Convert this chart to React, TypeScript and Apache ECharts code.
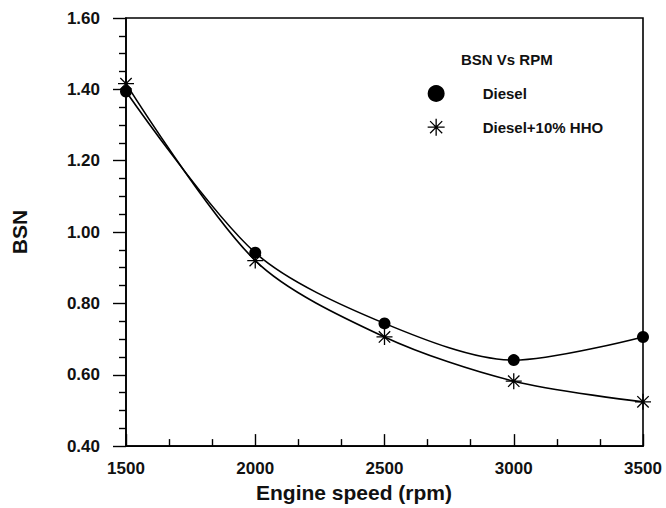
import React, { useEffect, useRef } from "react";
import * as echarts from "echarts";

const rpm = [1500, 2000, 2500, 3000, 3500];
const dieselBSN = [1.394, 0.942, 0.744, 0.641, 0.706];
const hhoBSN = [1.416, 0.92, 0.706, 0.582, 0.524];
const seriesNames = ["Diesel", "Diesel+10% HHO"];
const legendTitle = "BSN Vs RPM";
const xTitle = "Engine speed (rpm)";
const yTitle = "BSN";

const ASTERISK = "path://M0,8L16,8M8,0L8,16M2.3,2.3L13.7,13.7M2.3,13.7L13.7,2.3";
const FONT = "'Liberation Sans', Arial, sans-serif";

export default function App() {
  const ref = useRef<HTMLDivElement>(null);
  useEffect(() => {
    if (!ref.current) return;
    const chart = echarts.init(ref.current, null, { renderer: "svg" });
    const axisLabel = { color: "#111", fontSize: 17, fontWeight: "bold" as const, fontFamily: FONT };
    chart.setOption({
      animation: false,
      backgroundColor: "#fff",
      textStyle: { fontFamily: FONT },
      title: {
        text: legendTitle,
        left: 456,
        top: 47,
        textStyle: { fontSize: 15, fontWeight: "bold", color: "#111", fontFamily: FONT },
      },
      legend: {
        orient: "vertical",
        left: 422,
        top: 80,
        itemWidth: 17,
        itemHeight: 17,
        itemGap: 16,
        selectedMode: false,
        textStyle: {
          fontSize: 15,
          fontWeight: "bold",
          color: "#111",
          fontFamily: FONT,
          padding: [0, 0, 0, 33],
        },
        data: [
          { name: seriesNames[0], icon: "circle", itemStyle: { color: "#000" } },
          {
            name: seriesNames[1],
            icon: ASTERISK,
            itemStyle: { color: "#000", borderColor: "#000", borderWidth: 1.3 },
          },
        ],
      },
      grid: {
        left: 126,
        right: 23,
        top: 18,
        bottom: 58,
        show: true,
        borderColor: "#000",
        borderWidth: 1.6,
        backgroundColor: "transparent",
      },
      xAxis: {
        type: "value",
        min: 1500,
        max: 3500,
        interval: 500,
        name: xTitle,
        nameLocation: "middle",
        nameGap: 28,
        nameTextStyle: {
          fontSize: 21,
          fontWeight: "bold",
          color: "#111",
          fontFamily: FONT,
          padding: [0, 61, 0, 0],
        },
        axisLine: { show: true, lineStyle: { color: "#000", width: 1.6 } },
        axisTick: { show: true, inside: true, length: 12, lineStyle: { color: "#000", width: 1.4 } },
        minorTick: { show: true, splitNumber: 3, length: 7, lineStyle: { color: "#000", width: 1.4 } },
        axisLabel: { ...axisLabel, margin: 14, formatter: (v: number) => String(v) },
        splitLine: { show: false },
      },
      yAxis: {
        type: "value",
        min: 0.4,
        max: 1.6,
        interval: 0.2,
        name: yTitle,
        nameLocation: "middle",
        nameGap: 96,
        nameTextStyle: { fontSize: 21, fontWeight: "bold", color: "#111", fontFamily: FONT },
        axisLine: { show: true, lineStyle: { color: "#000", width: 1.6 } },
        axisTick: { show: true, inside: false, length: 13, lineStyle: { color: "#000", width: 1.4 } },
        minorTick: { show: true, splitNumber: 4, length: 7, lineStyle: { color: "#000", width: 1.4 } },
        axisLabel: { ...axisLabel, margin: 26, formatter: (v: number) => v.toFixed(2) },
        splitLine: { show: false },
      },
      series: [
        {
          name: seriesNames[0],
          type: "line",
          smooth: 0.3,
          data: rpm.map((x, i) => [x, dieselBSN[i]]),
          symbol: "circle",
          symbolSize: 12,
          itemStyle: { color: "#000" },
          lineStyle: { color: "#000", width: 1.6 },
          z: 3,
        },
        {
          name: seriesNames[1],
          type: "line",
          smooth: 0.3,
          data: rpm.map((x, i) => [x, hhoBSN[i]]),
          symbol: ASTERISK,
          symbolSize: 16,
          itemStyle: { color: "#000", borderColor: "#000", borderWidth: 1.3 },
          lineStyle: { color: "#000", width: 1.6 },
          z: 4,
        },
      ],
    });
    return () => chart.dispose();
  }, []);
  return (
    <div
      ref={ref}
      style={{ position: "absolute", left: 0, top: 0, width: 666, height: 508 }}
    />
  );
}
